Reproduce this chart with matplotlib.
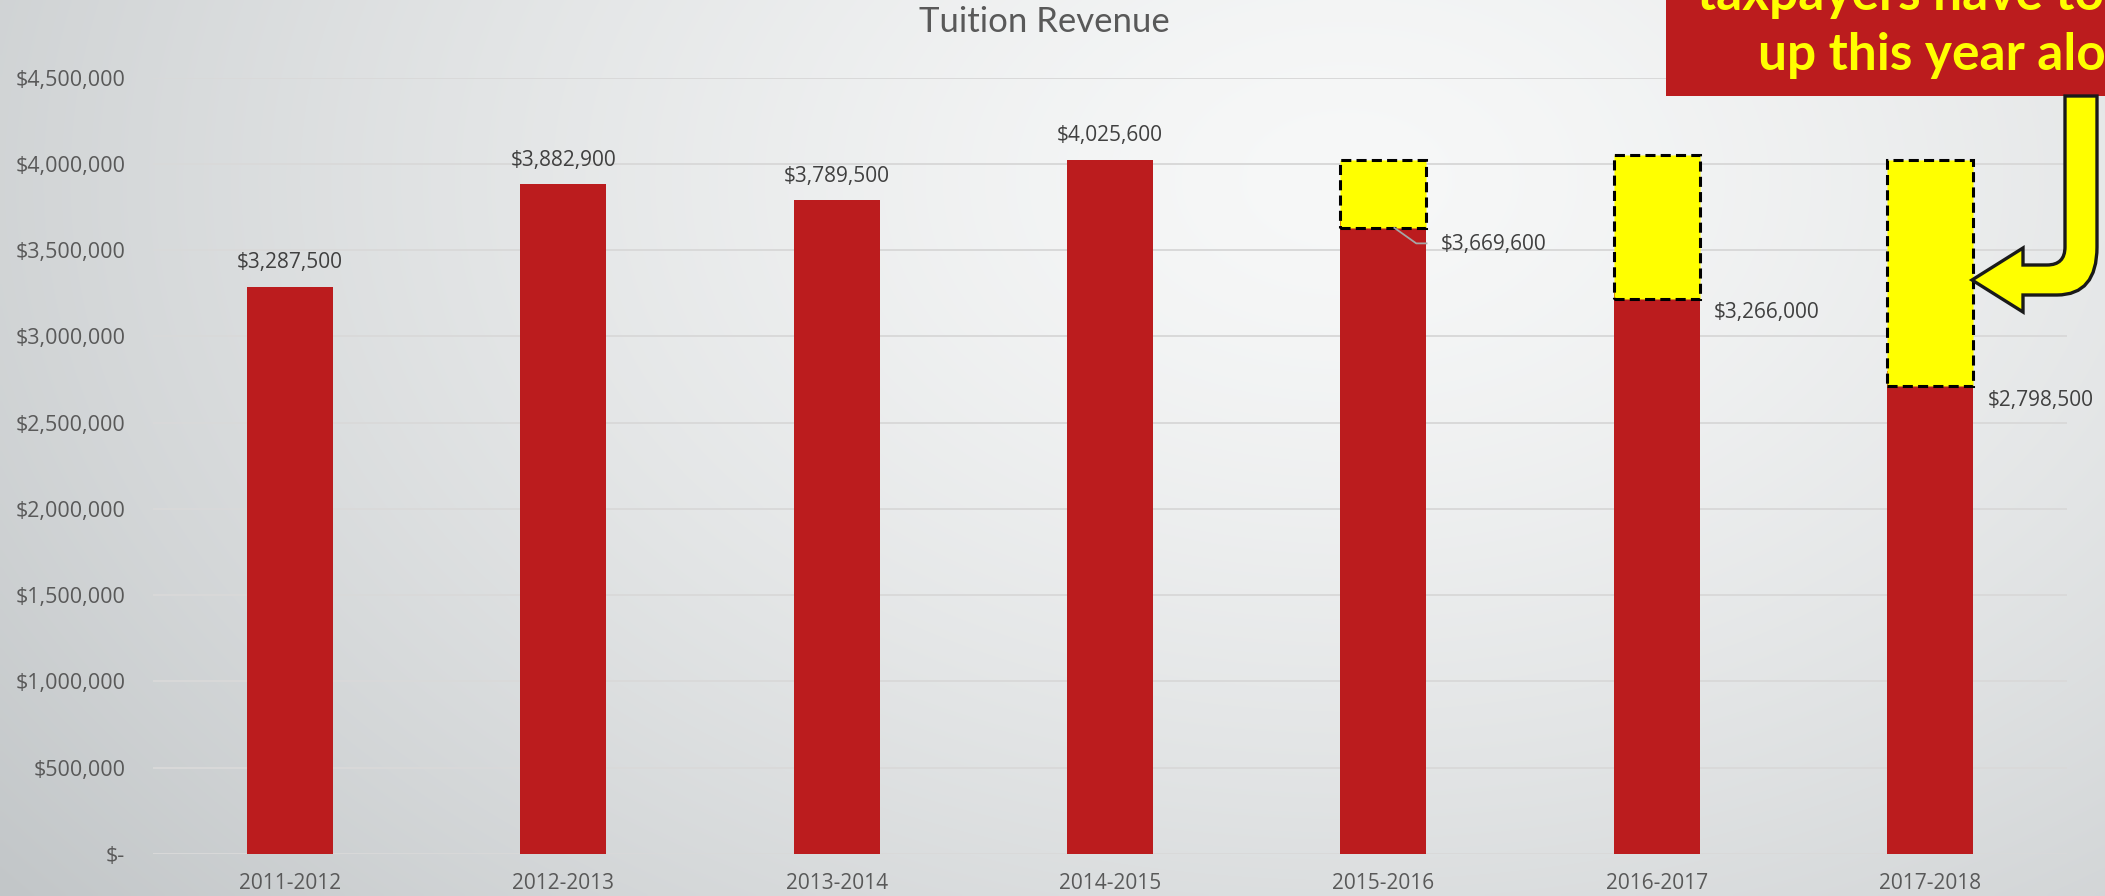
import numpy as np
import matplotlib
matplotlib.use("Agg")
import matplotlib.pyplot as plt
from matplotlib.patches import Rectangle, PathPatch
from matplotlib.path import Path

# ── data ─────────────────────────────────────────────────────────────
years = ["2011-2012", "2012-2013", "2013-2014", "2014-2015",
         "2015-2016", "2016-2017", "2017-2018"]
revenue = [3287500, 3882900, 3789500, 4025600, 3669600, 3266000, 2798500]

# yellow "shortfall" boxes drawn over the last three years
gap_idx = [4, 5, 6]
gap_bottom = [3630000, 3215000, 2710000]
gap_top = [4025600, 4050000, 4025600]

yticks = [0, 500000, 1000000, 1500000, 2000000, 2500000, 3000000, 3500000, 4000000, 4500000]

title = "Tuition Revenue"
callout_lines = ["taxpayers have to make", "up this year alone!"]

# ── style ────────────────────────────────────────────────────────────
W, H = 2105, 896
RED = "#BB1C1E"
YELLOW = "#FFFF00"
GREY_TXT = "#595959"
LABEL_TXT = "#404040"
BAR_W = 0.315
NUM_FONT = "Open Sans"
side_dy = [-24, -22, -29]   # px offsets for labels placed beside bars


def fx(px):
    return px / W


def fy(py):
    return 1 - py / H


def money(v):
    return "$-" if v == 0 else f"${v:,.0f}"


fig = plt.figure(figsize=(W / 100, H / 100), dpi=100)

# background gradient (light upper right, darker lower left)
bg = fig.add_axes([0, 0, 1, 1], zorder=-10)
yy, xx = np.mgrid[0:H:4, 0:W:4]
d = np.hypot(xx - 0.64 * W, (yy - 0.2 * H) * 1.5)
t = np.clip(d / d.max(), 0, 1) ** 1.4
light = np.array([247, 248, 248]) / 255
dark = np.array([194, 198, 200]) / 255
bg.imshow(light + (dark - light) * t[..., None], extent=[0, 1, 0, 1],
          aspect="auto", origin="upper", interpolation="bilinear")
bg.axis("off")

ax = fig.add_axes([fx(153), fy(854), fx(2067 - 153), (854 - 77.7) / H])
ax.set_facecolor("none")
x = np.arange(len(years))
ax.bar(x, revenue, width=BAR_W, color=RED, zorder=2)

gx = np.array(gap_idx)
ax.bar(gx, np.array(gap_top) - np.array(gap_bottom), bottom=gap_bottom,
       width=BAR_W, color=YELLOW, edgecolor="black", linewidth=2.2,
       linestyle=(0, (3.3, 1.7)), zorder=3)

ax.set_xlim(-0.5, len(years) - 0.5)
ax.set_ylim(0, 4500000)
ax.set_yticks(yticks)
ax.set_yticklabels([money(v) for v in yticks])
ax.set_xticks(x)
ax.set_xticklabels(years)
ax.yaxis.grid(True, color="#d9d9d9", linewidth=1.4)
ax.set_axisbelow(True)
for s in ax.spines.values():
    s.set_visible(False)
ax.tick_params(axis="y", length=0, pad=20, labelsize=15.5, labelcolor=GREY_TXT)
ax.tick_params(axis="x", length=0, pad=14, labelsize=15, labelcolor=GREY_TXT)
for lab in ax.get_xticklabels() + ax.get_yticklabels():
    lab.set_family(NUM_FONT)

# value labels
for i, v in enumerate(revenue):
    if i in gap_idx:
        k = gap_idx.index(i)
        ax.annotate(money(v), (i + BAR_W / 2, v), xytext=(14, side_dy[k]),
                    textcoords="offset pixels", ha="left", va="center",
                    fontsize=15, color=LABEL_TXT, family=NUM_FONT, zorder=5)
    else:
        ax.annotate(money(v), (i, v), xytext=(0, 24), textcoords="offset pixels",
                    ha="center", va="center", fontsize=15, color=LABEL_TXT,
                    family=NUM_FONT, zorder=5)

# leader line for the 2015-2016 label
i0 = gap_idx[0]
ax.plot([i0 + 0.04, i0 + 0.12, i0 + BAR_W / 2],
        [revenue[i0] - 40000, revenue[i0] - 130000, revenue[i0] - 130000],
        color="#a6a6a6", linewidth=1.3, zorder=4)

fig.text(fx(1044), fy(22), title, ha="center", va="center", fontsize=25,
         color=GREY_TXT, family="Lato")

# callout box (runs off the top right of the slide)
fig.add_artist(Rectangle((fx(1666), fy(96)), fx(W - 1666 + 20), 96 / H + 0.1,
                         transform=fig.transFigure, facecolor=RED,
                         edgecolor="none", zorder=20))
fig.text(fx(1697), fy(10), callout_lines[0], ha="left", va="baseline",
         fontsize=37, fontweight="bold", color=YELLOW, family="Lato", zorder=21)
fig.text(fx(1758), fy(70), callout_lines[1], ha="left", va="baseline",
         fontsize=37, fontweight="bold", color=YELLOW, family="Lato", zorder=21)

# bent yellow arrow pointing at the 2017-2018 box
pts = [
    ((2065, 96), Path.MOVETO),
    ((2065, 247), Path.LINETO),
    ((2065, 265), Path.CURVE3),
    ((2047, 265), Path.CURVE3),
    ((2023, 265), Path.LINETO),
    ((2023, 248), Path.LINETO),
    ((1972, 280), Path.LINETO),
    ((2023, 312), Path.LINETO),
    ((2023, 295), Path.LINETO),
    ((2057, 295), Path.LINETO),
    ((2097, 295), Path.CURVE3),
    ((2097, 247), Path.CURVE3),
    ((2097, 96), Path.LINETO),
    ((2065, 96), Path.CLOSEPOLY),
]
verts = [(fx(px), fy(py)) for (px, py), _ in pts]
codes = [c for _, c in pts]
fig.add_artist(PathPatch(Path(verts, codes), transform=fig.transFigure,
                         facecolor=YELLOW, edgecolor="#1a1a1a", linewidth=2.4,
                         joinstyle="miter", zorder=22))

fig.savefig("out.png", dpi=100)
